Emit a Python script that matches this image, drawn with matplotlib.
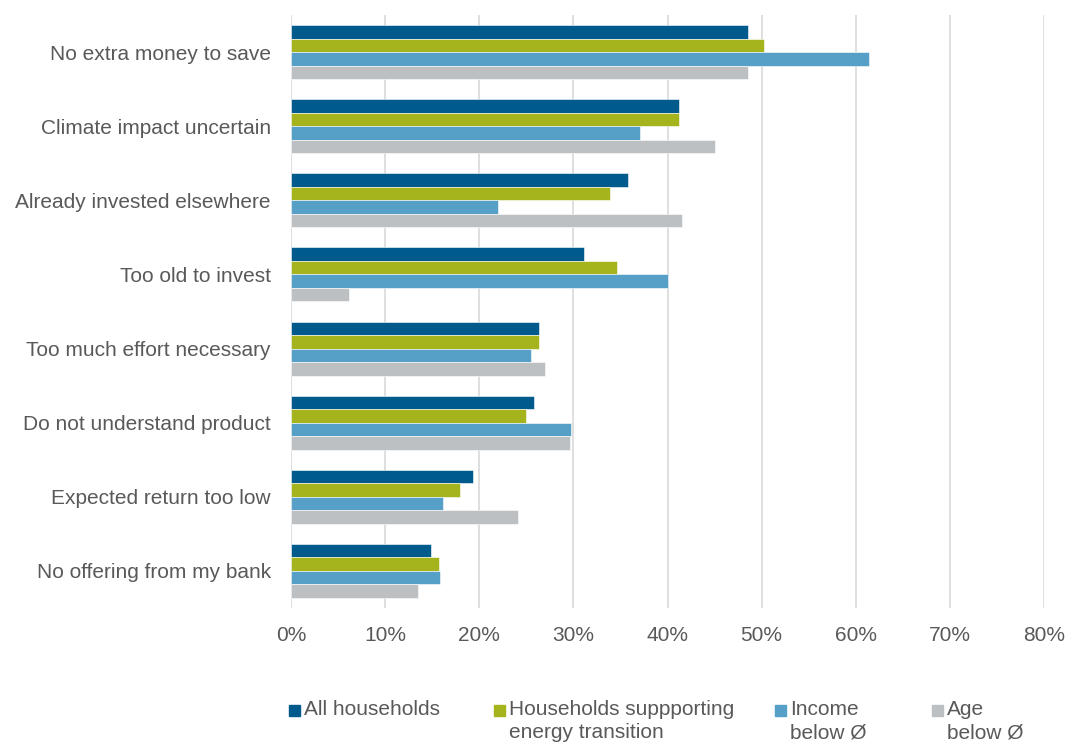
import numpy as np
import matplotlib
from matplotlib import pyplot as plt
from matplotlib.patches import Rectangle

matplotlib.use("Agg")

reasons = ["No extra money to save", "Climate impact uncertain",
           "Already invested elsewhere", "Too old to invest",
           "Too much effort necessary", "Do not understand product",
           "Expected return too low", "No offering from my bank"]
series_names = ["All households", "Households suppporting\nenergy transition",
                "Income\nbelow Ø", "Age\nbelow Ø"]
all_households = [48.6, 41.2, 35.8, 31.1, 26.3, 25.8, 19.3, 14.9]
energy_transition = [50.3, 41.2, 33.9, 34.6, 26.4, 25.0, 18.0, 15.7]
income_below = [61.4, 37.1, 22.0, 40.0, 25.5, 29.7, 16.1, 15.8]
age_below = [48.5, 45.0, 41.5, 6.2, 27.0, 29.6, 24.1, 13.5]
x_ticks = [0, 10, 20, 30, 40, 50, 60, 70, 80]

colors = ["#005A8C", "#A5B41C", "#56A0C8", "#BDC0C3"]
text_color = "#595959"

plt.rcParams["font.family"] = ["Liberation Sans", "DejaVu Sans"]

fig = plt.figure(figsize=(10.69, 7.45), dpi=100)
ax = fig.add_axes([291 / 1069, 1 - 608 / 745, (1044 - 291) / 1069, (608 - 15) / 745])

values = [all_households, energy_transition, income_below, age_below]
y = np.arange(len(reasons))
bar_h = 0.182
for i, (vals, col) in enumerate(zip(values, colors)):
    ax.barh(y - 1.5 * bar_h + i * bar_h, vals, height=bar_h, color=col,
            edgecolor="white", linewidth=0.4, zorder=3)

ax.set_ylim(len(reasons) - 0.5, -0.5)
ax.set_xlim(0, 80)
ax.set_xticks(x_ticks)
ax.set_xticklabels([f"{t}%" for t in x_ticks])
ax.set_yticks(y)
ax.set_yticklabels(reasons)
ax.tick_params(axis="both", length=0, labelsize=15, colors=text_color)
ax.tick_params(axis="x", pad=13)
ax.tick_params(axis="y", pad=14.5)
ax.grid(axis="x", color="#DCDCDC", linewidth=1.3, zorder=0)
for s in ax.spines.values():
    s.set_visible(False)

# legend drawn by hand to keep Excel-like spacing
legend_x = [289, 494, 775, 932]
for name, col, lx in zip(series_names, colors, legend_x):
    fig.patches.append(Rectangle((lx / 1069, 1 - 716 / 745), 11 / 1069, 11 / 745,
                                 transform=fig.transFigure, color=col))
    fig.text((lx + 15) / 1069, 1 - 700 / 745, name, fontsize=15, color=text_color,
             ha="left", va="top", linespacing=1.3)

plt.savefig("out.png", dpi=100)
plt.close("all")
